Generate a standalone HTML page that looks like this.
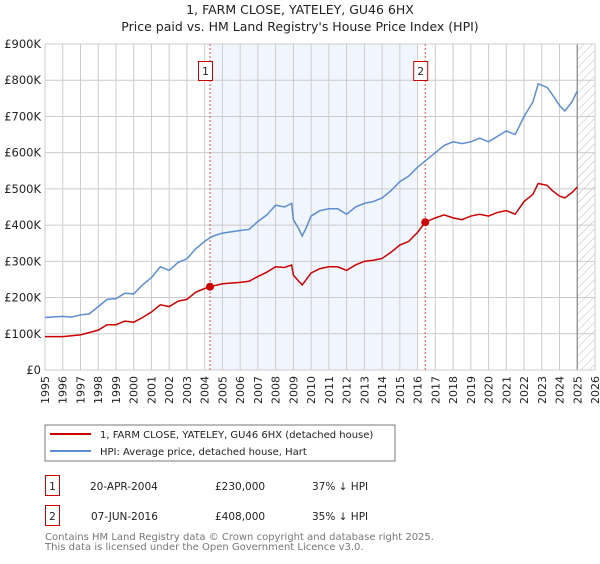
<!DOCTYPE html>
<html><head><meta charset="utf-8"><style>
body{margin:0;background:#fff;font-family:"DejaVu Sans","Liberation Sans",sans-serif;}
svg text{font-family:"DejaVu Sans","Liberation Sans",sans-serif;}
</style></head><body>
<svg id="chart" width="600" height="560" xmlns="http://www.w3.org/2000/svg">
<defs><pattern id="hatch" width="6" height="6" patternUnits="userSpaceOnUse" patternTransform="rotate(45)"><line x1="0" y1="0" x2="0" y2="6" stroke="#bbb" stroke-width="1"/></pattern></defs>
<text x="300" y="14" text-anchor="middle" font-size="12.5" fill="#222">1, FARM CLOSE, YATELEY, GU46 6HX</text>
<text x="300" y="31" text-anchor="middle" font-size="12.5" fill="#222">Price paid vs. HM Land Registry's House Price Index (HPI)</text>
<g id="plot"></g>
<rect x="45" y="425" width="350" height="36" fill="#fff" stroke="#777"/>
<line x1="50" y1="434" x2="91" y2="434" stroke="#cc0000" stroke-width="2"/>
<text x="100" y="438" font-size="10" fill="#222">1, FARM CLOSE, YATELEY, GU46 6HX (detached house)</text>
<line x1="50" y1="451" x2="91" y2="451" stroke="#5b8dd0" stroke-width="2"/>
<text x="100" y="455" font-size="10" fill="#222">HPI: Average price, detached house, Hart</text>
<g font-size="10.5" fill="#222">
<rect x="45.5" y="475.5" width="14" height="20" fill="none" stroke="#cc0000"/>
<text x="52.5" y="490" text-anchor="middle">1</text>
<text x="90" y="490">20-APR-2004</text>
<text x="215" y="490">£230,000</text>
<text x="312" y="490">37% ↓ HPI</text>
<rect x="45.5" y="505.5" width="14" height="20" fill="none" stroke="#cc0000"/>
<text x="52.5" y="520" text-anchor="middle">2</text>
<text x="91" y="520">07-JUN-2016</text>
<text x="215" y="520">£408,000</text>
<text x="312" y="520">35% ↓ HPI</text>
</g>
<text x="45" y="540" font-size="10" fill="#777">Contains HM Land Registry data © Crown copyright and database right 2025.</text>
<text x="45" y="550" font-size="10" fill="#777">This data is licensed under the Open Government Licence v3.0.</text>
</svg>
<script>
const hpiYears=[1995,1996,1996.5,1997,1997.5,1998,1998.5,1999,1999.5,2000,2000.5,2001,2001.5,2002,2002.5,2003,2003.5,2004,2004.3,2004.5,2005,2006,2006.5,2007,2007.5,2008,2008.5,2008.9,2009.0,2009.3,2009.5,2009.7,2010,2010.5,2011,2011.5,2012,2012.5,2013,2013.5,2014,2014.5,2015,2015.5,2016,2016.5,2017,2017.5,2018,2018.5,2019,2019.5,2020,2020.5,2021,2021.5,2022,2022.5,2022.8,2023.3,2023.6,2024,2024.3,2024.7,2025];
const hpiValues=[145,148,146,152,155,175,195,197,212,210,235,255,285,275,297,307,335,355,365,370,378,385,388,410,428,455,450,460,415,390,370,390,425,440,445,445,430,450,460,465,475,495,520,535,560,580,600,620,630,625,630,640,630,645,660,650,700,740,790,780,760,730,715,740,770];
const priceYears=[1995,1996,1997,1998,1998.5,1999,1999.5,2000,2000.5,2001,2001.5,2002,2002.5,2003,2003.5,2004,2004.3,2005,2006,2006.5,2007,2007.5,2008,2008.5,2008.9,2009.0,2009.3,2009.5,2009.7,2010,2010.5,2011,2011.5,2012,2012.5,2013,2013.5,2014,2014.5,2015,2015.5,2016,2016.43,2017,2017.5,2018,2018.5,2019,2019.5,2020,2020.5,2021,2021.5,2022,2022.5,2022.8,2023.3,2023.6,2024,2024.3,2024.7,2025];
const priceValues=[92,92,97,110,125,125,135,132,145,160,180,175,190,195,215,225,230,238,242,245,258,270,285,283,290,262,245,235,248,268,280,285,285,275,290,300,303,308,325,345,355,380,408,420,428,420,415,425,430,425,435,440,430,465,485,515,510,495,480,475,490,505];
const saleYears=[2004.3,2016.43];
const saleValues=[230,408];
const yTicks=[0,100,200,300,400,500,600,700,800,900];
const yTickLabels=["£0","£100K","£200K","£300K","£400K","£500K","£600K","£700K","£800K","£900K"];
const xTicks=[1995,1996,1997,1998,1999,2000,2001,2002,2003,2004,2005,2006,2007,2008,2009,2010,2011,2012,2013,2014,2015,2016,2017,2018,2019,2020,2021,2022,2023,2024,2025,2026];
const shadeStart=2004.3, shadeEnd=2016.0, hatchStart=2025.0;
const X0=45,X1=595,Y0=370,Y1=44;
const xs=y=>X0+(y-1995)/(2026-1995)*(X1-X0);
const ys=v=>Y0-v/900*(Y0-Y1);
const NS="http://www.w3.org/2000/svg";
const g=document.getElementById('plot');
function mk(t,a){const e=document.createElementNS(NS,t);for(const k in a)e.setAttribute(k,a[k]);g.appendChild(e);return e;}
let e;
e=mk('rect',{x:X0,y:Y1,width:X1-X0,height:Y0-Y1,fill:'#fff'});
e=mk('rect',{x:xs(shadeStart),y:Y1,width:xs(shadeEnd)-xs(shadeStart),height:Y0-Y1,fill:'#eef3fc',opacity:0.8});


e=mk('rect',{x:xs(hatchStart),y:Y1,width:X1-xs(hatchStart),height:Y0-Y1,fill:'url(#hatch)'});


xTicks.forEach(t=>{
 e=mk('line',{x1:xs(t),x2:xs(t),y1:Y1,y2:Y0,stroke:'#ccc','stroke-width':1});
 
 
 e=mk('text',{x:0,y:0,'font-size':11,fill:'#222','text-anchor':'end',transform:`translate(${xs(t)+4},${Y0+6}) rotate(-90)`});
 e.textContent=t;
 
 
});
yTicks.forEach((t,i)=>{
 e=mk('line',{x1:X0,x2:X1,y1:ys(t),y2:ys(t),stroke:'#ccc','stroke-width':1});
 
 
 e=mk('text',{x:X0-4,y:ys(t)+4,'font-size':11.5,fill:'#222','text-anchor':'end'});
 e.textContent=yTickLabels[i];
 
 
});
e=mk('line',{x1:xs(hatchStart),x2:xs(hatchStart),y1:Y1,y2:Y0,stroke:'#888','stroke-width':1.2});


e=mk('rect',{x:X0,y:Y1,width:X1-X0,height:Y0-Y1,fill:'none',stroke:'#ccc'});
saleYears.forEach((s,i)=>{
 e=mk('line',{x1:xs(s),x2:xs(s),y1:Y1,y2:Y0,stroke:'#e05050','stroke-width':1,'stroke-dasharray':'2,2'});
 
 
 e=mk('rect',{x:xs(s)-11.5,y:61.5,width:14,height:19,fill:'#fff',stroke:'#cc0000'});
 
 
 e=mk('text',{x:xs(s)-4.5,y:75,'font-size':10.5,fill:'#222','text-anchor':'middle'});
 e.textContent=String(i+1);
 
 
});
e=mk('polyline',{points:hpiYears.map((y,i)=>xs(y)+','+ys(hpiValues[i])).join(' '),fill:'none',stroke:'#5b8dd0','stroke-width':1.5});


e=mk('polyline',{points:priceYears.map((y,i)=>xs(y)+','+ys(priceValues[i])).join(' '),fill:'none',stroke:'#cc0000','stroke-width':1.5});


saleYears.forEach((s,i)=>{
 e=mk('circle',{cx:xs(s),cy:ys(saleValues[i]),r:4,fill:'#cc0000'});
 
 
});
</script>
</body></html>
